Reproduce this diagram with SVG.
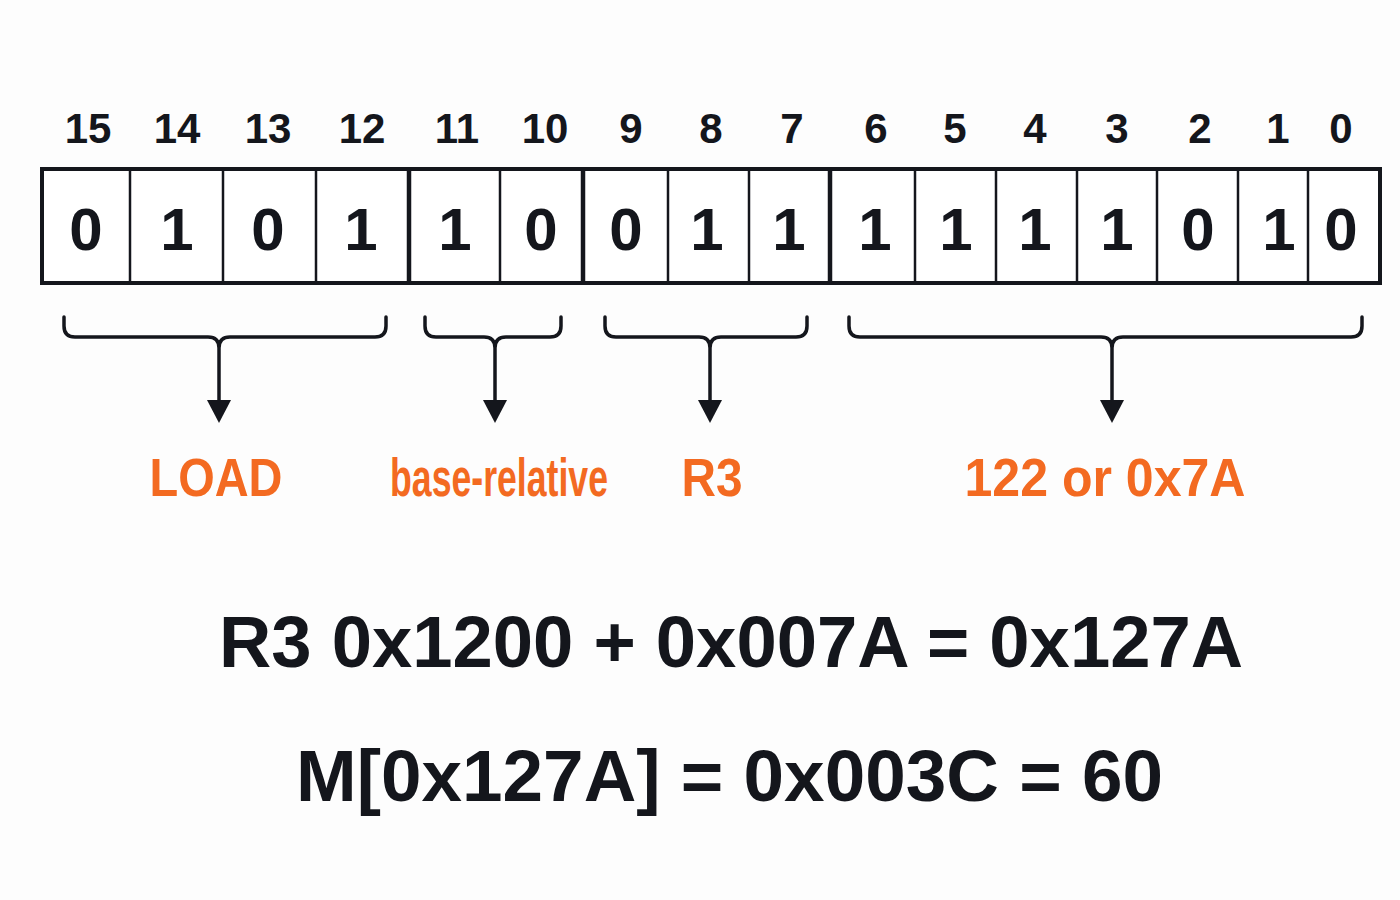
<svg xmlns="http://www.w3.org/2000/svg" width="1400" height="900" viewBox="0 0 1400 900">
<defs>
<style>
.bitn{font-family:"Liberation Sans",Arial,sans-serif;font-weight:bold;font-size:42px;fill:#14161c;text-anchor:middle}
.bitv{font-family:"Liberation Sans",Arial,sans-serif;font-weight:bold;font-size:60px;fill:#14161c;text-anchor:middle}
.lbl{font-family:"Liberation Sans",Arial,sans-serif;font-weight:bold;font-size:54px;fill:#f36a21;text-anchor:middle}
.eq{font-family:"Liberation Sans",Arial,sans-serif;font-weight:bold;font-size:72px;fill:#14161c}
.thin{stroke:#14161c;stroke-width:2.5}
.thick{stroke:#14161c;stroke-width:4.5}
.brace{fill:none;stroke:#14161c;stroke-width:3.5;stroke-linecap:round;stroke-linejoin:round}
.head{fill:#14161c}
</style>
</defs>
<rect width="1400" height="900" fill="#fdfdfd"/>

<g id="bit-numbers">
<text class="bitn" x="88" y="143">15</text>
<text class="bitn" x="177" y="143">14</text>
<text class="bitn" x="268" y="143">13</text>
<text class="bitn" x="362" y="143">12</text>
<text class="bitn" x="457" y="143">11</text>
<text class="bitn" x="545" y="143">10</text>
<text class="bitn" x="631" y="143">9</text>
<text class="bitn" x="711" y="143">8</text>
<text class="bitn" x="792" y="143">7</text>
<text class="bitn" x="876" y="143">6</text>
<text class="bitn" x="955" y="143">5</text>
<text class="bitn" x="1035" y="143">4</text>
<text class="bitn" x="1117" y="143">3</text>
<text class="bitn" x="1200" y="143">2</text>
<text class="bitn" x="1278" y="143">1</text>
<text class="bitn" x="1341" y="143">0</text>
</g>

<g id="register">
<rect x="42" y="169" width="1338" height="114" fill="#ffffff" stroke="#14161c" stroke-width="4"/>
<line class="thin" x1="130" y1="169" x2="130" y2="283"/>
<line class="thin" x1="223" y1="169" x2="223" y2="283"/>
<line class="thin" x1="316" y1="169" x2="316" y2="283"/>
<line class="thick" x1="409" y1="169" x2="409" y2="283"/>
<line class="thin" x1="500" y1="169" x2="500" y2="283"/>
<line class="thick" x1="583" y1="169" x2="583" y2="283"/>
<line class="thin" x1="668" y1="169" x2="668" y2="283"/>
<line class="thin" x1="749" y1="169" x2="749" y2="283"/>
<line class="thick" x1="830" y1="169" x2="830" y2="283"/>
<line class="thin" x1="915" y1="169" x2="915" y2="283"/>
<line class="thin" x1="996" y1="169" x2="996" y2="283"/>
<line class="thin" x1="1077" y1="169" x2="1077" y2="283"/>
<line class="thin" x1="1157" y1="169" x2="1157" y2="283"/>
<line class="thin" x1="1238" y1="169" x2="1238" y2="283"/>
<line class="thin" x1="1308" y1="169" x2="1308" y2="283"/>
<text class="bitv" x="86" y="250">0</text>
<text class="bitv" x="177" y="250">1</text>
<text class="bitv" x="268" y="250">0</text>
<text class="bitv" x="361" y="250">1</text>
<text class="bitv" x="455" y="250">1</text>
<text class="bitv" x="541" y="250">0</text>
<text class="bitv" x="626" y="250">0</text>
<text class="bitv" x="707" y="250">1</text>
<text class="bitv" x="789" y="250">1</text>
<text class="bitv" x="875" y="250">1</text>
<text class="bitv" x="956" y="250">1</text>
<text class="bitv" x="1035" y="250">1</text>
<text class="bitv" x="1117" y="250">1</text>
<text class="bitv" x="1198" y="250">0</text>
<text class="bitv" x="1279" y="250">1</text>
<text class="bitv" x="1341" y="250">0</text>
</g>

<g id="connectors">
<path class="brace" d="M64,317 V326 Q64,337 75,337 H208 Q219,337 219,348 V402 M386,317 V326 Q386,337 375,337 H230 Q219,337 219,348"/>
<polygon class="head" points="207,400 231,400 219,423"/>
<path class="brace" d="M425,317 V326 Q425,337 436,337 H484 Q495,337 495,348 V402 M561,317 V326 Q561,337 550,337 H506 Q495,337 495,348"/>
<polygon class="head" points="483,400 507,400 495,423"/>
<path class="brace" d="M605,317 V326 Q605,337 616,337 H699 Q710,337 710,348 V402 M807,317 V326 Q807,337 796,337 H721 Q710,337 710,348"/>
<polygon class="head" points="698,400 722,400 710,423"/>
<path class="brace" d="M849,317 V326 Q849,337 860,337 H1101 Q1112,337 1112,348 V402 M1362,317 V326 Q1362,337 1351,337 H1123 Q1112,337 1112,348"/>
<polygon class="head" points="1100,400 1124,400 1112,423"/>
</g>

<g id="label-load"><text class="lbl" x="216" y="496" textLength="133" lengthAdjust="spacingAndGlyphs">LOAD</text></g>
<g id="label-base"><text class="lbl" transform="translate(499,496) scale(0.66,1)" x="0" y="0" font-size="56">base-relative</text></g>
<g id="label-r3"><text class="lbl" x="712" y="496" textLength="61" lengthAdjust="spacingAndGlyphs">R3</text></g>
<g id="label-offset"><text class="lbl" x="1105" y="496" textLength="281" lengthAdjust="spacingAndGlyphs">122 or 0x7A</text></g>

<g id="equation-1"><text class="eq" x="219" y="667" textLength="1024" lengthAdjust="spacingAndGlyphs">R3 0x1200 + 0x007A = 0x127A</text></g>
<g id="equation-2"><text class="eq" x="296" y="801" font-size="73" textLength="867" lengthAdjust="spacingAndGlyphs">M[0x127A] = 0x003C = 60</text></g>
</svg>
